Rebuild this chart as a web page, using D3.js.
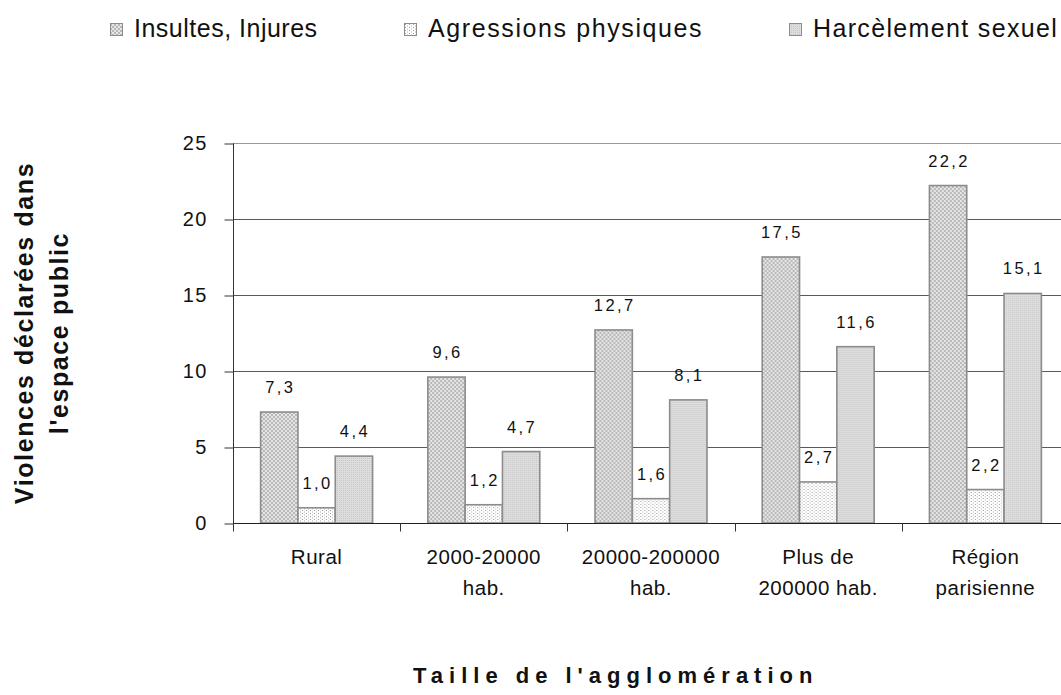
<!DOCTYPE html>
<html lang="fr">
<head>
<meta charset="UTF-8">
<title>Violences déclarées dans l'espace public</title>
<script src="https://d3js.org/d3.v7.min.js"></script>
<style>
  body { margin: 0; background: #fff; overflow: hidden; }
  svg { display: block; font-family: "Liberation Sans", Arial, sans-serif; }
</style>
</head>
<body>
<svg width="1061" height="695"></svg>
<script>
  // data
  const categories = [
    ["Rural"],
    ["2000-20000", "hab."],
    ["20000-200000", "hab."],
    ["Plus de", "200000 hab."],
    ["Région", "parisienne"]
  ];
  const seriesNames = ["Insultes, Injures", "Agressions physiques", "Harcèlement sexuel"];
  const insultes   = [7.3, 9.6, 12.7, 17.5, 22.2];
  const agressions = [1.0, 1.2, 1.6, 2.7, 2.2];
  const harcelement = [4.4, 4.7, 8.1, 11.6, 15.1];
  const yTicks = [0, 5, 10, 15, 20, 25];

  const series = [insultes, agressions, harcelement];
  const patternIds = ["pInsultes", "pAgressions", "pHarcelement"];

  const width = 1061, height = 695;
  const margin = {top: 143, right: -8, bottom: 172, left: 233};

  const svg = d3.select("svg");

  // fill patterns
  const defs = svg.append("defs");
  const p1 = defs.append("pattern").attr("id", "pInsultes")
    .attr("patternUnits", "userSpaceOnUse").attr("width", 4).attr("height", 4);
  p1.append("rect").attr("width", 4).attr("height", 4).attr("fill", "#e6e6e6");
  p1.append("rect").attr("width", 2).attr("height", 2).attr("fill", "#b8b8b8");
  p1.append("rect").attr("x", 2).attr("y", 2).attr("width", 2).attr("height", 2).attr("fill", "#b8b8b8");

  const p2 = defs.append("pattern").attr("id", "pAgressions")
    .attr("patternUnits", "userSpaceOnUse").attr("width", 4).attr("height", 3);
  p2.append("rect").attr("width", 4).attr("height", 3).attr("fill", "#fff");
  p2.append("rect").attr("x", 1).attr("width", 1).attr("height", 1).attr("fill", "#9a9a9a");
  p2.append("rect").attr("x", 3).attr("y", 1.5).attr("width", 1).attr("height", 1).attr("fill", "#b0b0b0");

  const p3 = defs.append("pattern").attr("id", "pHarcelement")
    .attr("patternUnits", "userSpaceOnUse").attr("width", 2).attr("height", 2);
  p3.append("rect").attr("width", 2).attr("height", 2).attr("fill", "#dedede");
  p3.append("rect").attr("width", 1).attr("height", 1).attr("fill", "#c6c6c6");

  // scales
  const x0 = d3.scaleBand()
    .domain(d3.range(categories.length))
    .range([margin.left, width - margin.right])
    .paddingInner(0).paddingOuter(0);

  const x1 = d3.scaleBand()
    .domain(d3.range(series.length))
    .range([0, x0.bandwidth()])
    .paddingInner(0).paddingOuter(0.74);

  const y = d3.scaleLinear()
    .domain([0, 25])
    .range([height - margin.bottom, margin.top]);

  // gridlines
  svg.append("g")
    .selectAll("line")
    .data(yTicks.filter(d => d > 0))
    .join("line")
    .attr("x1", margin.left).attr("x2", width - margin.right)
    .attr("y1", d => Math.round(y(d)) + 0.5).attr("y2", d => Math.round(y(d)) + 0.5)
    .attr("stroke", d => d === 25 ? "#999" : "#5a5a5a")
    .attr("stroke-width", 1);

  // y axis
  const yAxis = svg.append("g")
    .attr("transform", `translate(${margin.left + 0.5},0.5)`)
    .call(d3.axisLeft(y).tickValues(yTicks).tickSize(9).tickPadding(17).tickFormat(d3.format("d")));
  yAxis.select(".domain").attr("stroke", "#333").attr("d", `M0,${y(25)}V${y(0)}`);
  yAxis.selectAll(".tick line").attr("stroke", "#333");
  yAxis.selectAll(".tick text")
    .attr("font-size", 20).attr("font-family", "Liberation Sans, Arial, sans-serif")
    .attr("fill", "#111").attr("letter-spacing", 1.2);

  // bars
  const groups = svg.append("g")
    .selectAll("g")
    .data(categories.map((c, i) => i))
    .join("g")
    .attr("transform", i => `translate(${x0(i)},0)`);

  groups.selectAll("rect")
    .data(i => series.map((s, k) => ({k, v: s[i]})))
    .join("rect")
    .attr("x", d => x1(d.k))
    .attr("width", x1.bandwidth())
    .attr("y", d => y(d.v))
    .attr("height", d => y(0) - y(d.v))
    .attr("fill", d => `url(#${patternIds[d.k]})`)
    .attr("stroke", "#8c8c8c")
    .attr("stroke-width", 1.6);

  groups.selectAll("text.val")
    .data(i => series.map((s, k) => ({k, v: s[i]})))
    .join("text")
    .attr("class", "val")
    .attr("x", d => x1(d.k) + x1.bandwidth() / 2 + 1)
    .attr("y", d => y(d.v) - 19)
    .attr("text-anchor", "middle")
    .attr("font-size", 16.5)
    .attr("letter-spacing", 2.4)
    .attr("fill", "#111")
    .text(d => d3.format(".1f")(d.v).replace(".", ","));

  // x axis line and ticks
  const xBase = Math.round(y(0)) + 0.5;
  svg.append("line")
    .attr("x1", margin.left).attr("x2", width - margin.right)
    .attr("y1", xBase).attr("y2", xBase)
    .attr("stroke", "#222").attr("stroke-width", 1.2);

  svg.append("g")
    .selectAll("line")
    .data(d3.range(categories.length + 1))
    .join("line")
    .attr("x1", i => Math.round(margin.left + i * x0.bandwidth()) + 0.5)
    .attr("x2", i => Math.round(margin.left + i * x0.bandwidth()) + 0.5)
    .attr("y1", xBase).attr("y2", xBase + 8)
    .attr("stroke", "#333");

  // category labels
  groups.append("text")
    .attr("x", x0.bandwidth() / 2)
    .attr("y", 564)
    .attr("text-anchor", "middle")
    .attr("font-size", 20.5)
    .attr("letter-spacing", 0.5)
    .attr("fill", "#111")
    .selectAll("tspan")
    .data(i => categories[i])
    .join("tspan")
    .attr("x", x0.bandwidth() / 2)
    .attr("dy", (d, j) => j === 0 ? 0 : 31)
    .text(d => d);

  // legend
  const legendX = [110, 404, 789];
  const legendSpacing = [0.5, 1.6, 1.35];
  const legend = svg.append("g")
    .selectAll("g")
    .data(seriesNames)
    .join("g")
    .attr("transform", (d, k) => `translate(${legendX[k]},0)`);
  legend.append("rect")
    .attr("x", 0.5).attr("y", 23.5).attr("width", 12).attr("height", 12)
    .attr("fill", (d, k) => `url(#${patternIds[k]})`)
    .attr("stroke", "#8c8c8c");
  legend.append("text")
    .attr("x", 24).attr("y", 37)
    .attr("font-size", 25)
    .attr("fill", "#111")
    .attr("letter-spacing", (d, k) => legendSpacing[k])
    .text(d => d);

  // axis titles
  const yTitle = svg.append("text")
    .attr("transform", "translate(33,333) rotate(-90)")
    .attr("text-anchor", "middle")
    .attr("font-size", 25)
    .attr("font-weight", "bold")
    .attr("letter-spacing", 1.6)
    .attr("fill", "#111");
  yTitle.append("tspan").attr("x", 0).attr("dy", 0).text("Violences déclarées dans");
  yTitle.append("tspan").attr("x", 0).attr("dy", 35).text("l'espace public");

  svg.append("text")
    .attr("x", 413).attr("y", 683)
    .attr("font-size", 22)
    .attr("font-weight", "bold")
    .attr("letter-spacing", 6)
    .attr("fill", "#111")
    .text("Taille de l'agglomération");
</script>
</body>
</html>
